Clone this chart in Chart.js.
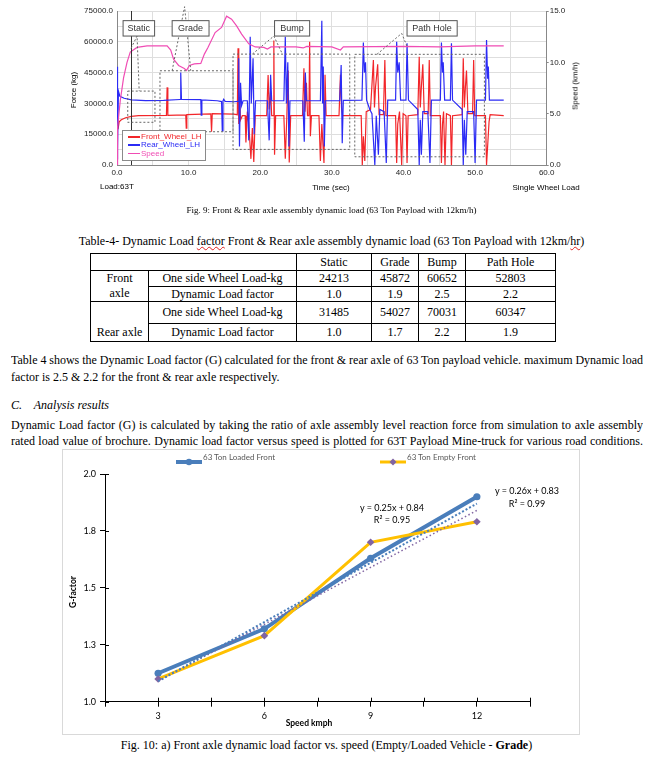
<!DOCTYPE html>
<html>
<head>
<meta charset="utf-8">
<script src="https://cdn.jsdelivr.net/npm/chart.js@4.4.1/dist/chart.umd.min.js"></script>
<style>
  body { margin: 0; background: #fff; }
  #page { position: relative; width: 653px; height: 759px; overflow: hidden; font-family: "Liberation Serif", "Times New Roman", serif; color: #000; }
  .abs { position: absolute; white-space: nowrap; }
  .c { position: absolute; white-space: nowrap; transform: translate(-50%, -50%); }
  .sans { font-family: "Liberation Sans", Arial, sans-serif; }
  .xl { font-family: Lato, "Open Sans", sans-serif; }
  .line { position: absolute; left: 11px; width: 632px; font-size: 12px; line-height: 14px; height: 14px; white-space: nowrap; }
  .just { text-align: justify; text-align-last: justify; white-space: normal; overflow: hidden; word-spacing: -1.5px; }
  .wavy { text-decoration: underline wavy #e02020; text-decoration-thickness: 1px; }
  #dlf { position: absolute; left: 90px; top: 253px; border-collapse: collapse; table-layout: fixed; font-size: 12px; line-height: 13px; }
  #dlf td { border: 1px solid #000; padding: 0; text-align: center; vertical-align: middle; }
  #topLegend { position: absolute; left: 122px; top: 130px; width: 84px; height: 31px; border: 1px solid #8a8a8a; background: #fff; box-sizing: border-box; font-family: "Liberation Sans", Arial, sans-serif; }
  #topLegend .it { position: absolute; left: 5px; font-size: 8px; line-height: 8px; white-space: nowrap; }
  #topLegend .sw { display: inline-block; width: 12px; height: 1.5px; vertical-align: middle; margin-right: 1px; }
  #gFrame { position: absolute; left: 62px; top: 449px; width: 518px; height: 286px; border: 1px solid #d9d9d9; box-sizing: border-box; }
</style>
</head>
<body>
<div id="page">
  <canvas id="loadChart" width="653" height="195" style="position:absolute;left:0;top:0"></canvas>
  <div class="c sans" style="left:73px;top:90px;font-size:8px;transform:translate(-50%,-50%) rotate(-90deg)">Force (kg)</div>
  <div class="c sans" style="left:575px;top:86px;font-size:8px;transform:translate(-50%,-50%) rotate(-90deg)">Speed (km/h)</div>
  <div class="c sans" style="left:331px;top:187px;font-size:8px">Time (sec)</div>
  <div class="abs sans" style="left:100px;top:182px;font-size:8px">Load:63T</div>
  <div class="c sans" style="left:546px;top:187px;font-size:8px">Single Wheel Load</div>
  <div id="topLegend"></div>

  <div class="abs" style="left:0;width:663px;text-align:center;top:204px;font-size:9px;line-height:12px">Fig. 9: Front &amp; Rear axle assembly dynamic load (63 Ton Payload with 12km/h)</div>
  <div class="abs" style="left:0;width:663px;text-align:center;top:234px;font-size:12px;line-height:14px">Table-4- Dynamic Load <span class="wavy">factor</span> Front &amp; Rear axle assembly dynamic load (63 Ton Payload with 12km/<span class="wavy">hr</span>)</div>
  <table id="dlf"></table>

  <div class="line just" style="top:353px">Table 4 shows the Dynamic Load factor (G) calculated for the front &amp; rear axle of 63 Ton payload vehicle. maximum Dynamic load</div>
  <div class="line" style="top:370px">factor is 2.5 &amp; 2.2 for the front &amp; rear axle respectively.</div>
  <div class="line" style="top:398px;font-style:italic">C.&nbsp;&nbsp;&nbsp; Analysis results</div>
  <div class="line just" style="top:418px">Dynamic Load factor (G) is calculated by taking the ratio of axle assembly level reaction force from simulation to axle assembly</div>
  <div class="line just" style="top:434px">rated load value of brochure. Dynamic load factor versus speed is plotted for 63T Payload Mine-truck for various road conditions.</div>

  <div id="gFrame"></div>
  <canvas id="gChart" width="518" height="286" style="position:absolute;left:62px;top:449px"></canvas>
  <div id="gLegend"></div>
  <div class="c xl" style="left:73px;top:592px;font-size:8.5px;font-weight:bold;transform:translate(-50%,-50%) rotate(-90deg)">G-factor</div>
  <div class="c xl" style="left:309px;top:723px;font-size:8.5px;font-weight:bold">Speed kmph</div>
  <div class="c xl" style="left:392px;top:507px;font-size:9px">y = 0.25x + 0.84</div>
  <div class="c xl" style="left:392px;top:519px;font-size:9px">R² = 0.95</div>
  <div class="c xl" style="left:527px;top:490px;font-size:9px">y = 0.26x + 0.83</div>
  <div class="c xl" style="left:527px;top:503px;font-size:9px">R² = 0.99</div>

  <div class="abs" style="left:0;width:653px;text-align:center;top:738px;font-size:12px;line-height:14px">Fig. 10: a) Front axle dynamic load factor vs. speed (Empty/Loaded Vehicle - <b>Grade</b>)</div>
</div>

<script>
"use strict";

// ---- Fig. 9 : wheel loads vs time, [time s, value] ----
const frontWheel = [
    [0, 0], [0.05, 26800], [0.15, 17500], [0.3, 21000], [0.6, 22000], [1.2, 23000], [2, 23700], [3, 24000], [6.9, 24100],
    [7.0, 37800], [7.1, 24200], [9.6, 24400], [9.67, 17900], [9.75, 24500], [13.1, 24900], [13.2, 16200], [13.3, 25000], [16.3, 24800],
    [16.8, 24500], [16.9, 56800], [17.0, 20000], [17.1, 33000], [17.25, 22000], [17.5, 24000],
    [17.9, 24000], [18.0, 11000], [18.2, 26000], [18.4, 20000], [18.7, 3000], [18.9, 18000], [19.1, 1500], [19.3, 24000],
    [20.9, 24000], [21.1, 43800], [21.25, 27000], [21.45, 36000], [21.6, 24000], [21.8, 24000], [21.9, 60600], [22.0, 5000], [22.15, 24000],
    [23.3, 24000], [23.5, 3000], [23.7, 22000], [23.9, 46000], [24.05, 1200], [24.25, 24000],
    [25.9, 24000], [26.1, 47100], [26.25, 26000], [26.45, 40000], [26.6, 24000], [26.8, 24000], [26.9, 60000], [27.0, 14000], [27.15, 24000],
    [28.2, 24000], [28.4, 2000], [28.6, 20000], [28.9, 1000], [29.05, 44000], [29.2, 24000],
    [31.0, 24000], [31.2, 44000], [31.35, 28000], [31.5, 24000],
    [34.1, 24000], [34.25, 0], [34.4, 14000], [34.6, 2000], [34.8, 26000], [35.4, 27000], [35.8, 51100], [35.95, 28000], [36.1, 38000], [36.4, 49000], [36.6, 24500], [37.2, 24500], [37.4, 51100], [37.55, 24000],
    [38.9, 24000], [39.05, 1000], [39.2, 20000], [39.45, 26000], [39.75, 0], [39.95, 25000], [40.35, 24000], [40.5, 1000], [40.65, 24000],
    [42.0, 24500], [42.2, 52700], [42.35, 28000], [42.5, 38000], [42.7, 49000], [42.9, 25000], [43.45, 25000], [43.6, 51100], [43.75, 24000],
    [45.15, 24000], [45.3, 1000], [45.45, 20000], [45.6, 26000], [45.8, 0], [46.0, 25000], [46.55, 24000], [46.7, 0], [46.85, 24000],
    [48.2, 24500], [48.35, 52000], [48.5, 28000], [48.65, 38000], [48.8, 46000], [49.0, 25000], [49.65, 25000], [49.8, 51100], [49.95, 24000],
    [51.45, 24000], [51.6, 0], [51.8, 12000], [51.95, 21000], [52.1, 24500], [54, 24000]
];
const rearWheel = [
    [0, 3000], [0.05, 47900], [0.1, 7300], [0.2, 36000], [0.4, 33500], [1, 32500], [2, 31700], [4, 31400], [6.5, 31500], [8.8, 31900],
    [8.9, 45000], [9.0, 31900], [11.7, 31800], [11.76, 24300], [11.85, 31700], [14.0, 31300], [14.6, 30900], [14.7, 16600], [14.8, 31200], [14.9, 32000], [15.1, 31000], [16.3, 30800],
    [16.9, 31000], [17.0, 52000], [17.1, 9000], [17.25, 40000], [17.4, 29000], [17.6, 31300],
    [18.2, 31300], [18.4, 12000], [18.6, 62500], [18.75, 30000], [19.0, 52000], [19.15, 15000], [19.35, 31300],
    [21.0, 31300], [21.25, 12000], [21.45, 44000], [21.6, 31300],
    [23.3, 31300], [23.5, 62500], [23.65, 30000], [23.85, 50000], [24.0, 9000], [24.15, 31300],
    [25.95, 31300], [26.15, 11300], [26.3, 45000], [26.45, 31300],
    [28.4, 31300], [28.6, 70300], [28.7, 30000], [28.8, 48000], [28.95, 9000], [29.1, 31300],
    [31.1, 31300], [31.3, 48700], [31.45, 10600], [31.6, 31500],
    [34.2, 31600], [34.4, 59600], [34.55, 45000], [34.7, 50000], [34.85, 31600], [35.3, 27000], [35.6, 25000], [36.0, 0], [36.2, 24000], [36.5, 5000], [36.7, 27000], [37.3, 26000], [37.6, 1000], [37.8, 31600],
    [38.9, 31600], [39.05, 60000], [39.2, 45000], [39.4, 50000], [39.6, 31600], [40.35, 31600], [40.5, 59300], [40.7, 31600],
    [42.0, 27000], [42.2, 0], [42.35, 22000], [42.5, 5000], [42.7, 26000], [43.4, 26000], [43.7, 1000], [43.9, 31600],
    [45.15, 31600], [45.3, 59600], [45.45, 45000], [45.55, 50000], [45.75, 31600], [46.55, 31600], [46.7, 59300], [46.85, 31600],
    [48.2, 27000], [48.35, 0], [48.5, 22000], [48.7, 5000], [48.9, 26000], [49.8, 26000], [50.0, 1000], [50.2, 31600],
    [51.45, 31600], [51.6, 60900], [51.75, 42000], [51.85, 48000], [52.0, 31600], [54, 31600]
];
// km/h
const speed = [
    [0, 0], [0.08, 3.7], [0.46, 6.3], [0.92, 8.5], [1.4, 10.0], [1.85, 11.0], [2.8, 11.45], [4.2, 11.6], [7.0, 11.6],
    [7.5, 11.2], [7.9, 10.3], [8.6, 9.7], [9.4, 9.4], [9.7, 9.2], [10.1, 9.7], [10.8, 9.85], [11.7, 9.9], [12.2, 10.8], [12.7, 11.45],
    [13.7, 12.9], [14.6, 13.4], [15.3, 14.5], [16.0, 14.2], [16.7, 13.55], [17.4, 12.75], [18.4, 11.8], [19.3, 11.5],
    [20.5, 11.45], [21.0, 11.3], [21.5, 11.5], [25, 11.5], [26, 11.4], [26.5, 11.55], [30, 11.5], [31.2, 11.2], [31.6, 11.5],
    [40, 11.55], [45, 11.5], [50, 11.6], [54, 11.6]
];

const cursorTime = 1.96;
const zoneNames = ['Static', 'Grade', 'Bump', 'Path Hole'];
const zoneTime = [[1.5, 5.3], [6.0, 16.2], [16.2, 32.5], [33.2, 51.3]];
const zoneForce = [[20800, 36000], [16200, 45900], [7600, 54000], [4000, 53900]];
const labelTime = [[0.85, 5.25], [7.7, 12.85], [22.0, 26.9], [40.5, 47.5]];
const labelForce = [62800, 70300];
const callouts = [
    [[1.96, 56800], [2.8, 62800], [3.1, 36000]],
    [[7.7, 45900], [9.44, 77100], [10.3, 45900]],
    [[18.9, 54000], [21.9, 62800], [23.1, 54000]],
    [[36.3, 53900], [39.75, 64100], [40.6, 57000]]
];

// ---- Table 4 ----
const tableCols = ['Static', 'Grade', 'Bump', 'Path Hole'];
const frontLoadKg = [24213, 45872, 60652, 52803];
const frontDlf = ['1.0', '1.9', '2.5', '2.2'];
const rearLoadKg = [31485, 54027, 70031, 60347];
const rearDlf = ['1.0', '1.7', '2.2', '1.9'];

// ---- Fig. 10 : G-factor vs speed ----
const speedsKmph = [3, 6, 9, 12];
const loadedFront = [1.125, 1.32, 1.63, 1.90];
const emptyFront = [1.10, 1.29, 1.70, 1.79];
const trendX = [3, 12];
const loadedTrend = [1.09, 1.87];
const emptyTrend = [1.09, 1.84];

const RED = '#f2262a', BLUE = '#2b2bf5', PINK = '#f04cb4';

// table
(function buildTable() {
    const t = document.getElementById('dlf');
    const widths = [58, 148, 75, 47, 47, 90];
    let html = '<colgroup>' + widths.map(w => '<col style="width:' + w + 'px">').join('') + '</colgroup>';
    html += '<tr style="height:17px"><td colspan="2"></td>' + tableCols.map(c => '<td>' + c + '</td>').join('') + '</tr>';
    html += '<tr style="height:16px"><td rowspan="2" style="line-height:15px">Front<br>axle</td><td>One side Wheel Load-kg</td>' + frontLoadKg.map(v => '<td>' + v + '</td>').join('') + '</tr>';
    html += '<tr style="height:15px"><td>Dynamic Load factor</td>' + frontDlf.map(v => '<td>' + v + '</td>').join('') + '</tr>';
    html += '<tr style="height:22px"><td rowspan="2" style="vertical-align:bottom;padding-bottom:2px">Rear axle</td><td>One side Wheel Load-kg</td>' + rearLoadKg.map(v => '<td>' + v + '</td>').join('') + '</tr>';
    html += '<tr style="height:18px"><td>Dynamic Load factor</td>' + rearDlf.map(v => '<td>' + v + '</td>').join('') + '</tr>';
    t.innerHTML = html;
})();

// legend of fig 9
(function () {
    const lg = document.getElementById('topLegend');
    const items = [['Front_Wheel_LH', RED], ['Rear_Wheel_LH', BLUE], ['Speed', PINK]];
    items.forEach((it, i) => {
        const d = document.createElement('div');
        d.className = 'it';
        d.style.top = (2 + i * 8.3) + 'px';
        d.style.color = it[1];
        d.innerHTML = '<span class="sw" style="background:' + it[1] + '"></span>' + it[0];
        lg.appendChild(d);
    });
})();

const toXY = arr => arr.map(p => ({ x: p[0], y: p[1] }));

const zoneMarks = {
    id: 'zoneMarks',
    afterDatasetsDraw(chart) {
        const { ctx, chartArea, scales: { x, y } } = chart;
        ctx.save();
        ctx.strokeStyle = '#333';
        ctx.lineWidth = 1;
        const cx = Math.round(x.getPixelForValue(cursorTime)) + 0.5;
        ctx.beginPath();
        ctx.moveTo(cx, chartArea.top);
        ctx.lineTo(cx, chartArea.bottom);
        ctx.stroke();

        ctx.setLineDash([2, 2]);
        ctx.strokeStyle = '#666';
        zoneNames.forEach((name, i) => {
            const x0 = x.getPixelForValue(zoneTime[i][0]), x1 = x.getPixelForValue(zoneTime[i][1]);
            const y0 = y.getPixelForValue(zoneForce[i][1]), y1 = y.getPixelForValue(zoneForce[i][0]);
            ctx.strokeRect(x0, y0, x1 - x0, y1 - y0);
            ctx.beginPath();
            callouts[i].forEach((p, k) => {
                const px = x.getPixelForValue(p[0]), py = y.getPixelForValue(p[1]);
                if (k === 0) ctx.moveTo(px, py); else ctx.lineTo(px, py);
            });
            ctx.stroke();
        });
        ctx.setLineDash([]);
        ctx.font = '9px "Liberation Sans", Arial, sans-serif';
        ctx.textAlign = 'center';
        ctx.textBaseline = 'middle';
        zoneNames.forEach((name, i) => {
            const x0 = x.getPixelForValue(labelTime[i][0]), x1 = x.getPixelForValue(labelTime[i][1]);
            const y0 = y.getPixelForValue(labelForce[1]), y1 = y.getPixelForValue(labelForce[0]);
            ctx.fillStyle = '#fff';
            ctx.fillRect(x0, y0, x1 - x0, y1 - y0);
            ctx.strokeStyle = '#555';
            ctx.strokeRect(x0, y0, x1 - x0, y1 - y0);
            ctx.fillStyle = '#333';
            ctx.fillText(name, (x0 + x1) / 2, (y0 + y1) / 2 + 0.5);
        });
        ctx.restore();
    }
};

const tickFont = { family: '"Liberation Sans", Arial, sans-serif', size: 8 };

new Chart(document.getElementById('loadChart'), {
    type: 'line',
    data: {
        datasets: [
            { label: 'Speed', data: toXY(speed), yAxisID: 'y2', borderColor: PINK, borderWidth: 1.2, pointRadius: 0, tension: 0 },
            { label: 'Rear_Wheel_LH', data: toXY(rearWheel), yAxisID: 'y', borderColor: BLUE, borderWidth: 1.2, pointRadius: 0, tension: 0 },
            { label: 'Front_Wheel_LH', data: toXY(frontWheel), yAxisID: 'y', borderColor: RED, borderWidth: 1.2, pointRadius: 0, tension: 0 }
        ]
    },
    options: {
        responsive: false,
        animation: false,
        layout: { padding: { left: 60, right: 70, top: 11, bottom: 0 } },
        plugins: { legend: { display: false }, tooltip: { enabled: false } },
        scales: {
            x: {
                type: 'linear', min: 0, max: 60,
                afterFit: s => { s.height = 30; },
                grid: { color: '#dedede', drawTicks: false },
                border: { color: '#888' },
                ticks: { stepSize: 5, autoSkip: false, maxRotation: 0, padding: 3, color: '#222', font: tickFont,
                    callback: v => (v % 10 === 0 ? v.toFixed(1) : '') }
            },
            y: {
                position: 'left', min: 0, max: 75000,
                afterFit: s => { s.width = 57; },
                grid: { color: '#dedede', drawTicks: false },
                border: { color: '#888' },
                ticks: { stepSize: 7500, padding: 4, color: '#222', font: tickFont,
                    callback: v => (v % 15000 === 0 ? v.toFixed(1) : '') }
            },
            y2: {
                position: 'right', min: 0, max: 15,
                afterFit: s => { s.width = 36.3; },
                grid: { drawOnChartArea: false, drawTicks: true, tickLength: 2, color: '#888' },
                border: { color: '#888' },
                ticks: { stepSize: 5, padding: 1, color: '#222', font: tickFont, callback: v => v.toFixed(1) }
            }
        }
    },
    plugins: [zoneMarks]
});

// legend of fig 10
(function () {
    const lg = document.getElementById('gLegend');
    const items = [
        ['63 Ton Loaded Front', '#4a7ebb', 4, '<circle cx="13" cy="5" r="3.2" fill="#4a7ebb"/>', 176, 203],
        ['63 Ton Empty Front', '#ffc000', 3, '<path d="M13 1.5 L16.5 5 L13 8.5 L9.5 5 Z" fill="#8064a2"/>', 380, 407]
    ];
    items.forEach(it => {
        const s = document.createElement('div');
        s.className = 'abs';
        s.style.left = it[4] + 'px';
        s.style.top = '453px';
        s.innerHTML = '<svg width="26" height="10"><line x1="0" y1="5" x2="26" y2="5" stroke="' + it[1] + '" stroke-width="' + it[2] + '"/>' + it[3] + '</svg>';
        lg.appendChild(s);
        const t = document.createElement('div');
        t.className = 'abs xl';
        t.style.left = it[5] + 'px';
        t.style.top = '452px';
        t.style.fontSize = '8px';
        t.style.lineHeight = '11px';
        t.style.color = '#595959';
        t.textContent = it[0];
        lg.appendChild(t);
    });
})();

// Excel-style ticks crossing the axes
const crossTicks = {
    id: 'crossTicks',
    afterDraw(chart) {
        const { ctx, chartArea, scales: { x, y } } = chart;
        ctx.save();
        ctx.strokeStyle = '#000';
        ctx.lineWidth = 1;
        ctx.beginPath();
        y.ticks.forEach(t => {
            const py = Math.round(y.getPixelForValue(t.value)) + 0.5;
            ctx.moveTo(chartArea.left, py);
            ctx.lineTo(chartArea.left + 4, py);
        });
        x.ticks.forEach(t => {
            const px = Math.round(x.getPixelForValue(t.value)) + 0.5;
            ctx.moveTo(px, chartArea.bottom);
            ctx.lineTo(px, chartArea.bottom - 4);
        });
        ctx.stroke();
        ctx.restore();
    }
};

const xlFont = { family: 'Lato, "Open Sans", sans-serif', size: 9 };
const pts = (xs, ys) => xs.map((x, i) => ({ x: x, y: ys[i] }));

new Chart(document.getElementById('gChart'), {
    type: 'line',
    data: {
        datasets: [
            { label: 'Linear (63 Ton Loaded Front)', data: pts(trendX, loadedTrend), borderColor: '#4a7ebb', borderWidth: 2, borderDash: [2, 2], pointRadius: 0, order: 0 },
            { label: 'Linear (63 Ton Empty Front)', data: pts(trendX, emptyTrend), borderColor: '#8064a2', borderWidth: 1.5, borderDash: [1.5, 2.5], pointRadius: 0, order: 0 },
            { label: '63 Ton Empty Front', data: pts(speedsKmph, emptyFront), borderColor: '#ffc000', borderWidth: 3,
              pointStyle: 'rectRot', pointRadius: 3.8, pointBackgroundColor: '#8064a2', pointBorderColor: '#8064a2', pointBorderWidth: 0, order: 1 },
            { label: '63 Ton Loaded Front', data: pts(speedsKmph, loadedFront), borderColor: '#4a7ebb', borderWidth: 4,
              pointStyle: 'circle', pointRadius: 3.6, pointBackgroundColor: '#4a7ebb', pointBorderColor: '#4a7ebb', pointBorderWidth: 0, order: 2 }
        ]
    },
    options: {
        responsive: false,
        animation: false,
        layout: { padding: { left: 0, right: 50, top: 25, bottom: 0 } },
        plugins: { legend: { display: false }, tooltip: { enabled: false } },
        scales: {
            x: {
                type: 'linear', min: 1.5, max: 13.5,
                afterFit: s => { s.height = 33.3; },
                grid: { drawOnChartArea: false, tickLength: 5, color: '#000' },
                border: { color: '#000', width: 1 },
                ticks: { stepSize: 1.5, autoSkip: false, maxRotation: 0, padding: 4, color: '#000', font: xlFont,
                    callback: v => (v % 3 === 0 ? String(v) : '') }
            },
            y: {
                min: 1, max: 2,
                afterFit: s => { s.width = 43; },
                grid: { drawOnChartArea: false, tickLength: 5, color: '#000' },
                border: { color: '#000', width: 1 },
                ticks: { stepSize: 0.25, padding: 4, color: '#000', font: xlFont, callback: v => v.toFixed(1) }
            }
        }
    },
    plugins: [crossTicks]
});
</script>
</body>
</html>
